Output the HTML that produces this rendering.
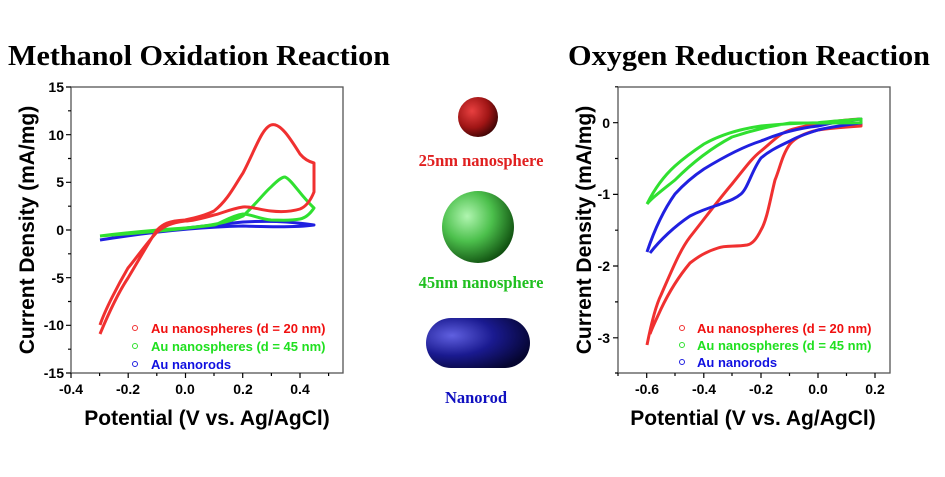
<!DOCTYPE html><html><head><style>body{margin:0;background:#fff}svg text{font-family:"Liberation Sans",sans-serif;font-weight:bold}</style></head><body>
<svg width="945" height="472" viewBox="0 0 945 472" xmlns="http://www.w3.org/2000/svg">
<defs>
<radialGradient id="gr" cx="0.35" cy="0.35" r="0.7"><stop offset="0" stop-color="#e84040"/><stop offset="0.6" stop-color="#a01515"/><stop offset="1" stop-color="#400505"/></radialGradient>
<radialGradient id="gg" cx="0.35" cy="0.35" r="0.7"><stop offset="0" stop-color="#b0f5b0"/><stop offset="0.5" stop-color="#4cc04c"/><stop offset="1" stop-color="#105010"/></radialGradient>
<radialGradient id="gb" cx="0.25" cy="0.35" r="0.8"><stop offset="0" stop-color="#6060e0"/><stop offset="0.5" stop-color="#1a1a90"/><stop offset="1" stop-color="#050530"/></radialGradient>
</defs>
<text x="8" y="65" textLength="382" lengthAdjust="spacingAndGlyphs" style="font-family:'Liberation Serif',serif;font-size:29px">Methanol Oxidation Reaction</text>
<text x="568" y="65" textLength="362" lengthAdjust="spacingAndGlyphs" style="font-family:'Liberation Serif',serif;font-size:29px">Oxygen Reduction Reaction</text>
<!-- left plot -->
<rect x="71" y="87" width="272" height="286" fill="none" stroke="#555" stroke-width="1.3"/>
<g stroke="#000" stroke-width="1.2">
<path d="M71 87h-5M71 134.7h-5M71 182.3h-5M71 230h-5M71 277.7h-5M71 325.3h-5M71 373h-5"/>
<path d="M71 110.8h-3M71 158.5h-3M71 206.2h-3M71 253.8h-3M71 301.5h-3M71 349.2h-3"/>
<path d="M71 373v5M128.2 373v5M185.5 373v5M242.7 373v5M300 373v5"/>
<path d="M99.6 373v3M156.8 373v3M214 373v3M271.4 373v3M328.6 373v3"/>
</g>
<g font-size="14" text-anchor="end">
<text x="64" y="92">15</text><text x="64" y="140">10</text><text x="64" y="187">5</text><text x="64" y="235">0</text><text x="64" y="283">-5</text><text x="64" y="330">-10</text><text x="64" y="378">-15</text>
</g>
<g font-size="14" text-anchor="middle">
<text x="71" y="394">-0.4</text><text x="128" y="394">-0.2</text><text x="185" y="394">0.0</text><text x="243" y="394">0.2</text><text x="300" y="394">0.4</text>
</g>
<text x="207" y="425" font-size="21" text-anchor="middle">Potential (V vs. Ag/AgCl)</text>
<text transform="translate(34,230) rotate(-90)" font-size="21" text-anchor="middle">Current Density (mA/mg)</text>
<g fill="none" stroke-width="3" stroke-linejoin="round">
<path stroke="#2020e0" d="M100 240 C150 232 200 226 243 222 C280 220 300 223 314 225 C300 227 270 227 243 226 C200 227 150 232 100 240"/>
<path stroke="#30e030" d="M100 236 C140 231 170 229 185 228 C210 226 230 222 243 216 C255 205 265 192 271 187 C278 180 282 177 285 177 C292 180 300 195 314 208 C310 214 305 218 300 219 C290 221 280 220 271 220 C260 219 250 214 243 214 C230 216 220 224 214 225 C190 228 140 233 100 236"/>
<path stroke="#f03030" d="M100 334 C110 310 120 290 128 278 C140 258 150 240 157 230 C163 224 168 221 185 220 C200 217 208 214 214 211 C228 200 235 185 243 173 C255 150 262 128 271 125 C280 122 290 138 300 154 C305 160 310 162 314 163 L314 192 C310 202 305 207 300 209 C290 212 280 212 271 211 C260 210 250 206 243 207 C230 209 220 214 214 215 C200 219 190 221 185 221 C170 223 165 226 157 232 C145 245 135 260 128 268 C118 285 105 310 100 325"/>
</g>
<g font-size="13">
<circle cx="135" cy="328" r="2.5" fill="none" stroke="#f03030"/><text x="151" y="333" fill="#f01010">Au nanospheres (d = 20 nm)</text>
<circle cx="135" cy="346" r="2.5" fill="none" stroke="#30e030"/><text x="151" y="351" fill="#20e020">Au nanospheres (d = 45 nm)</text>
<circle cx="135" cy="364" r="2.5" fill="none" stroke="#2020e0"/><text x="151" y="369" fill="#1010e0">Au nanorods</text>
</g>
<!-- middle -->
<circle cx="478" cy="117" r="20" fill="url(#gr)"/>
<text x="481" y="166" text-anchor="middle" fill="#e02020" style="font-family:'Liberation Serif',serif;font-size:16.5px">25nm nanosphere</text>
<circle cx="478" cy="227" r="36" fill="url(#gg)"/>
<text x="481" y="288" text-anchor="middle" fill="#20c020" style="font-family:'Liberation Serif',serif;font-size:16.5px">45nm nanosphere</text>
<rect x="426" y="318" width="104" height="50" rx="25" fill="url(#gb)"/>
<text x="476" y="403" text-anchor="middle" fill="#1010c0" style="font-family:'Liberation Serif',serif;font-size:16.5px">Nanorod</text>
<!-- right plot -->
<rect x="618" y="87" width="272" height="286" fill="none" stroke="#555" stroke-width="1.3"/>
<g stroke="#000" stroke-width="1.2">
<path d="M618 122.7h-5M618 194.4h-5M618 266h-5M618 337.8h-5"/>
<path d="M618 86.8h-3M618 158.5h-3M618 230.2h-3M618 301.9h-3M618 373h-3"/>
<path d="M646.7 373v5M703.8 373v5M761 373v5M818 373v5M875 373v5"/>
<path d="M618 373v3M675 373v3M732 373v3M789.5 373v3M846.5 373v3"/>
</g>
<g font-size="14" text-anchor="end">
<text x="610" y="128">0</text><text x="610" y="199">-1</text><text x="610" y="271">-2</text><text x="610" y="343">-3</text>
</g>
<g font-size="14" text-anchor="middle">
<text x="647" y="394">-0.6</text><text x="704" y="394">-0.4</text><text x="761" y="394">-0.2</text><text x="818" y="394">0.0</text><text x="875" y="394">0.2</text>
</g>
<text x="753" y="425" font-size="21" text-anchor="middle">Potential (V vs. Ag/AgCl)</text>
<text transform="translate(591,230) rotate(-90)" font-size="21" text-anchor="middle">Current Density (mA/mg)</text>
<g fill="none" stroke-width="3" stroke-linejoin="round">
<path stroke="#f03030" d="M647 345 C652 320 656 305 661 295 C672 270 680 250 690 237 C705 218 720 198 732 184 C745 168 752 158 761 151 C772 142 780 133 790 130 C810 124 840 120 861 119 L861 126 C845 127 830 128 818 130 C805 133 795 138 790 144 C782 155 780 168 775 180 C770 200 767 220 761 230 C756 240 752 244 747 245 C735 247 725 245 718 248 C705 252 698 257 690 263 C680 275 670 290 661 309 C656 320 652 328 650 334"/>
<path stroke="#2020e0" d="M647 252 C655 228 665 208 675 194 C685 183 695 175 704 169 C722 158 742 147 761 141 C780 133 800 128 818 126 C835 122 850 120 861 119 L861 123 C845 125 830 127 818 130 C805 134 795 138 790 141 C775 148 768 152 761 158 C752 170 748 188 741 194 C734 200 725 202 718 205 C705 209 698 212 690 216 C675 226 660 240 650 253"/>
<path stroke="#30e030" d="M647 204 C655 188 665 175 675 166 C685 157 695 150 704 144 C720 135 740 129 761 126 C780 124 800 123 818 122.7 C835 121 850 120 861 119 L861 122.7 C840 123 810 123 790 123 C770 126 750 131 732 137 C715 146 695 160 675 180 C660 192 652 198 647 204"/>
</g>
<g font-size="13">
<circle cx="682" cy="328" r="2.5" fill="none" stroke="#f03030"/><text x="697" y="333" fill="#f01010">Au nanospheres (d = 20 nm)</text>
<circle cx="682" cy="345" r="2.5" fill="none" stroke="#30e030"/><text x="697" y="350" fill="#20e020">Au nanospheres (d = 45 nm)</text>
<circle cx="682" cy="362" r="2.5" fill="none" stroke="#2020e0"/><text x="697" y="367" fill="#1010e0">Au nanorods</text>
</g>
</svg>
</body></html>
